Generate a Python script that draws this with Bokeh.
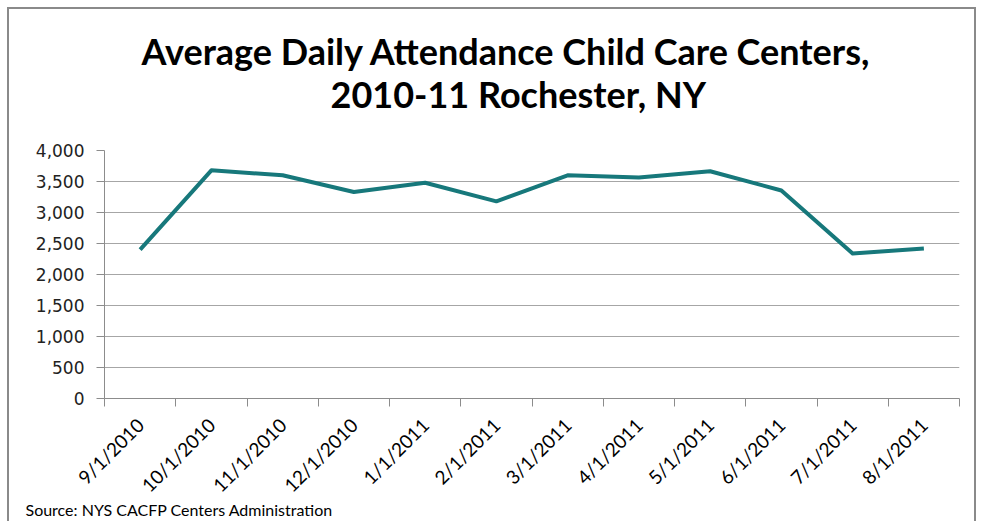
from bokeh.plotting import figure
from bokeh.models import (Title, FixedTicker, NumeralTickFormatter, Range1d)
from bokeh.embed import file_html
from bokeh.resources import INLINE

categories = ["9/1/2010", "10/1/2010", "11/1/2010", "12/1/2010", "1/1/2011", "2/1/2011",
              "3/1/2011", "4/1/2011", "5/1/2011", "6/1/2011", "7/1/2011", "8/1/2011"]
attendance = [2400, 3680, 3600, 3330, 3480, 3180, 3600, 3565, 3665, 3355, 2340, 2420]
y_ticks = [0, 500, 1000, 1500, 2000, 2500, 3000, 3500, 4000]
title_lines = ["Average Daily Attendance Child Care Centers,", "2010-11 Rochester, NY"]
source_text = "Source: NYS CACFP Centers Administration"

W, H = 969, 514
p = figure(width=W, height=H, output_backend="svg", toolbar_location=None,
           x_range=Range1d(0, len(categories)), y_range=Range1d(0, 4000),
           min_border_left=95, min_border_right=19, min_border_top=141, min_border_bottom=125)
p.styles = {"border": "2px solid #8a8a8a", "border-bottom-style": "none",
            "margin": "7px 0px 0px 7px"}
p.outline_line_color = None
p.background_fill_color = "white"
p.border_fill_color = "white"

xs = [i + 0.5 for i in range(len(categories))]
p.line(xs, attendance, line_color="#17787B", line_width=4, line_join="round")

# x axis
p.xaxis.ticker = FixedTicker(ticks=xs, minor_ticks=list(range(len(categories) + 1)))
p.xaxis.major_label_overrides = {x: c for x, c in zip(xs, categories)}
p.xaxis.major_label_orientation = 0.785398
p.xaxis.major_tick_line_color = None
p.xaxis.minor_tick_line_color = "#8c8c8c"
p.xaxis.minor_tick_out = 8
p.xaxis.minor_tick_in = 0
p.xaxis.axis_line_color = "#8c8c8c"
p.xaxis.major_label_text_font = "Lato"
p.xaxis.major_label_text_font_size = "19px"
p.xaxis.major_label_text_color = "#000000"
p.xaxis.major_label_standoff = 15

# y axis
p.yaxis.ticker = FixedTicker(ticks=y_ticks)
p.yaxis.formatter = NumeralTickFormatter(format="0,0")
p.yaxis.axis_line_color = "#8c8c8c"
p.yaxis.major_tick_line_color = "#8c8c8c"
p.yaxis.major_tick_out = 8
p.yaxis.major_tick_in = 0
p.yaxis.minor_tick_line_color = None
p.yaxis.major_label_text_font = "DejaVu Sans"
p.yaxis.major_label_text_font_size = "17px"
p.yaxis.major_label_text_color = "#222222"
p.yaxis.major_label_standoff = 12

p.xgrid.grid_line_color = None
p.ygrid.grid_line_color = "#a6a6a6"
p.ygrid.grid_line_width = 1

# first added "above" title sits closest to the plot frame
p.add_layout(Title(text=title_lines[1], align="left", offset=226, standoff=70,
                   text_font="Lato", text_font_style="bold", text_font_size="36px",
                   text_color="#000000"), "above")
p.add_layout(Title(text=title_lines[0], align="left", offset=37, standoff=-76,
                   text_font="Lato", text_font_style="bold", text_font_size="36px",
                   text_color="#000000"), "above")
p.add_layout(Title(text=source_text, align="left", offset=-79, standoff=-16,
                   vertical_align="top",
                   text_font="Lato", text_font_style="normal", text_font_size="16px",
                   text_color="#000000"), "below")

open("out.html", "w").write(file_html(p, INLINE))
